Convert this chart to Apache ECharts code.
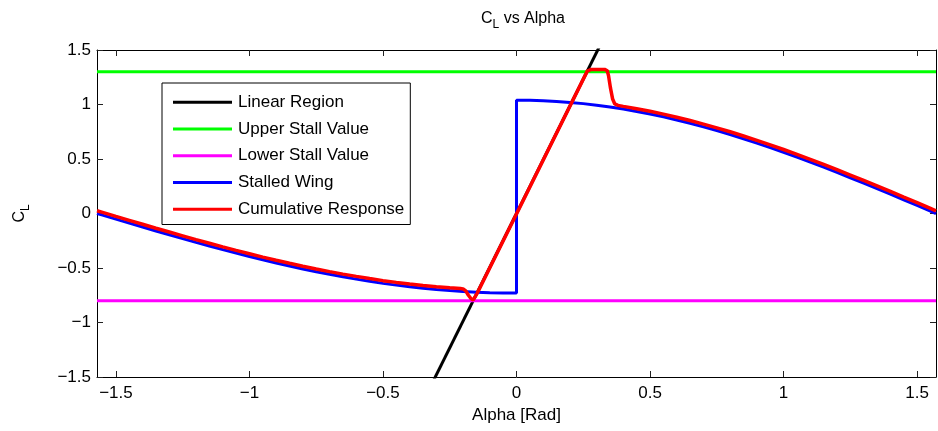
<!DOCTYPE html>
<html>
<head>
<meta charset="utf-8">
<script src="https://cdn.jsdelivr.net/npm/echarts@6/dist/echarts.min.js"></script>
<style>
  html, body { margin: 0; padding: 0; background: #fff; }
  #chart { width: 938px; height: 431px; }
</style>
</head>
<body>
<div id="chart"></div>
<script>
// Lift coefficient vs angle of attack
const HALF_PI = Math.PI / 2;

const xTicks = [-1.5, -1, -0.5, 0, 0.5, 1, 1.5];

// Linear (attached-flow) region
const linearAlpha = [-0.35, 0.35];
const linearCL = [-1.726, 1.726];

// Stall limits
const stallAlpha = [-HALF_PI, HALF_PI];
const upperStall = [1.3, 1.3];
const lowerStall = [-0.8, -0.8];

// Post-stall (flat plate like) behaviour
const stalledAlpha = [
  -HALF_PI, -1.55, -1.5, -1.45, -1.4, -1.35, -1.3, -1.25, -1.2, -1.15, -1.1, -1.05,
  -1.0, -0.95, -0.9, -0.85, -0.8, -0.75, -0.7, -0.65, -0.6, -0.55, -0.5, -0.45,
  -0.4, -0.35, -0.3, -0.25, -0.2, -0.15, -0.1, -0.05, 0,
  0, 0.05, 0.1, 0.15, 0.2, 0.25, 0.3, 0.35, 0.4, 0.45, 0.5, 0.55, 0.6, 0.65, 0.7,
  0.75, 0.8, 0.85, 0.9, 0.95, 1.0, 1.05, 1.1, 1.15, 1.2, 1.25, 1.3, 1.35, 1.4,
  1.45, 1.5, 1.55, HALF_PI
];
const stalledCL = [
  0, -0.015, -0.052, -0.088, -0.124, -0.160, -0.195, -0.230, -0.265, -0.298, -0.331, -0.363,
  -0.394, -0.425, -0.454, -0.482, -0.509, -0.534, -0.558, -0.581, -0.602, -0.622, -0.641, -0.657,
  -0.672, -0.686, -0.697, -0.707, -0.715, -0.722, -0.726, -0.729, -0.730,
  1.040, 1.039, 1.035, 1.028, 1.019, 1.008, 0.994, 0.977, 0.958, 0.936, 0.913, 0.887, 0.858, 0.828, 0.795,
  0.761, 0.725, 0.686, 0.646, 0.605, 0.562, 0.517, 0.472, 0.425, 0.377, 0.328, 0.278, 0.228,
  0.177, 0.125, 0.074, 0.022, 0
];

// Blended response across the whole range
const responseAlpha = [
  -HALF_PI, -1.55, -1.5, -1.45, -1.4, -1.35, -1.3, -1.25, -1.2, -1.15, -1.1, -1.05,
  -1.0, -0.95, -0.9, -0.85, -0.8, -0.75, -0.7, -0.65, -0.6, -0.55, -0.5, -0.45,
  -0.4, -0.35, -0.3, -0.25, -0.21, -0.2, -0.19, -0.18, -0.17, -0.162, -0.155, -0.148,
  0.265, 0.272, 0.28, 0.33, 0.34, 0.345, 0.352, 0.36, 0.368, 0.38, 0.4,
  0.45, 0.5, 0.55, 0.6, 0.65, 0.7, 0.75, 0.8, 0.85, 0.9, 0.95, 1.0, 1.05, 1.1,
  1.15, 1.2, 1.25, 1.3, 1.35, 1.4, 1.45, 1.5, 1.55, HALF_PI
];
const responseCL = [
  0.025, 0.010, -0.027, -0.063, -0.099, -0.135, -0.170, -0.205, -0.240, -0.273, -0.306, -0.338,
  -0.369, -0.400, -0.429, -0.457, -0.484, -0.509, -0.533, -0.556, -0.577, -0.597, -0.616, -0.632,
  -0.647, -0.661, -0.672, -0.682, -0.689, -0.692, -0.710, -0.750, -0.782, -0.792, -0.775, -0.735,
  1.306, 1.318, 1.322, 1.322, 1.310, 1.260, 1.150, 1.050, 1.005, 0.992, 0.983,
  0.961, 0.938, 0.912, 0.883, 0.853, 0.820, 0.786, 0.750, 0.711, 0.671, 0.630, 0.587, 0.542, 0.497,
  0.450, 0.402, 0.353, 0.303, 0.253, 0.202, 0.150, 0.099, 0.047, 0.025
];

const FONT = 'Liberation Sans, Arial, Helvetica, sans-serif';
const pairs = (xs, ys) => xs.map((x, i) => [x, ys[i]]);
const minus = v => String(v).replace('-', '\u2212');

const frameTick = { inside: true, length: 6, lineStyle: { color: '#222', width: 1 } };
const frameLine = { show: true, onZero: false, lineStyle: { color: '#000', width: 1 } };

// C with subscript L, used for the title and the y axis name
const subRich = {
  a: { fontFamily: FONT, fontSize: 16, fontWeight: 'normal', color: '#000', lineHeight: 26 },
  s: { fontFamily: FONT, fontSize: 12, fontWeight: 'normal', color: '#000', lineHeight: 26, padding: [12, 0, 0, 0] }
};

function lineSeries(name, color, data, width) {
  return {
    name: name,
    type: 'line',
    data: data,
    symbol: 'none',
    smooth: false,
    color: color,
    lineStyle: { color: color, width: width },
    itemStyle: { color: color },
    clip: true,
    silent: true
  };
}

const chart = echarts.init(document.getElementById('chart'), null, { renderer: 'canvas' });

chart.setOption({
  animation: false,
  backgroundColor: '#fff',
  title: {
    text: '{a|C}{s|L}{a| vs Alpha}',
    left: 518,
    textAlign: 'center',
    top: 1,
    textStyle: { fontWeight: 'normal', rich: subRich }
  },
  grid: { left: 90, right: 2, top: 50, bottom: 54, containLabel: false },
  legend: {
    orient: 'vertical',
    left: 162,
    top: 83,
    padding: [6, 6, 2, 11],
    itemGap: 0,
    itemWidth: 59,
    itemHeight: 3,
    icon: 'rect',
    backgroundColor: '#fff',
    borderColor: '#000',
    borderWidth: 1,
    borderRadius: 0,
    selectedMode: false,
    textStyle: { fontFamily: FONT, fontSize: 17, color: '#000', lineHeight: 26.7, padding: [0, 0, 0, 1] },
    data: ['Linear Region', 'Upper Stall Value', 'Lower Stall Value', 'Stalled Wing', 'Cumulative Response']
  },
  xAxis: [
    {
      type: 'value',
      position: 'bottom',
      min: -HALF_PI,
      max: HALF_PI,
      axisLine: frameLine,
      axisTick: Object.assign({ customValues: xTicks }, frameTick),
      axisLabel: {
        customValues: xTicks,
        formatter: minus,
        fontFamily: FONT, fontSize: 17, color: '#000', margin: 8
      },
      splitLine: { show: false },
      name: 'Alpha [Rad]',
      nameLocation: 'middle',
      nameGap: 30,
      nameTextStyle: { fontFamily: FONT, fontSize: 17, color: '#000' }
    },
    {
      type: 'value',
      position: 'top',
      min: -HALF_PI,
      max: HALF_PI,
      axisLine: frameLine,
      axisTick: Object.assign({ customValues: xTicks }, frameTick),
      axisLabel: { show: false },
      splitLine: { show: false }
    }
  ],
  yAxis: [
    {
      type: 'value',
      position: 'left',
      min: -1.5,
      max: 1.5,
      interval: 0.5,
      axisLine: frameLine,
      axisTick: frameTick,
      axisLabel: { formatter: minus, fontFamily: FONT, fontSize: 17, color: '#000', margin: 6 },
      splitLine: { show: false },
      name: '{a|C}{s|L}',
      nameLocation: 'middle',
      nameRotate: 90,
      nameGap: 64,
      nameTextStyle: { rich: subRich }
    },
    {
      type: 'value',
      position: 'right',
      min: -1.5,
      max: 1.5,
      interval: 0.5,
      axisLine: frameLine,
      axisTick: frameTick,
      axisLabel: { show: false },
      splitLine: { show: false }
    }
  ],
  series: [
    lineSeries('Linear Region', '#000000', pairs(linearAlpha, linearCL), 3),
    lineSeries('Upper Stall Value', '#00ff00', pairs(stallAlpha, upperStall), 3),
    lineSeries('Lower Stall Value', '#ff00ff', pairs(stallAlpha, lowerStall), 3),
    lineSeries('Stalled Wing', '#0000ff', pairs(stalledAlpha, stalledCL), 3),
    lineSeries('Cumulative Response', '#ff0000', pairs(responseAlpha, responseCL), 3.5)
  ]
});
</script>
</body>
</html>
